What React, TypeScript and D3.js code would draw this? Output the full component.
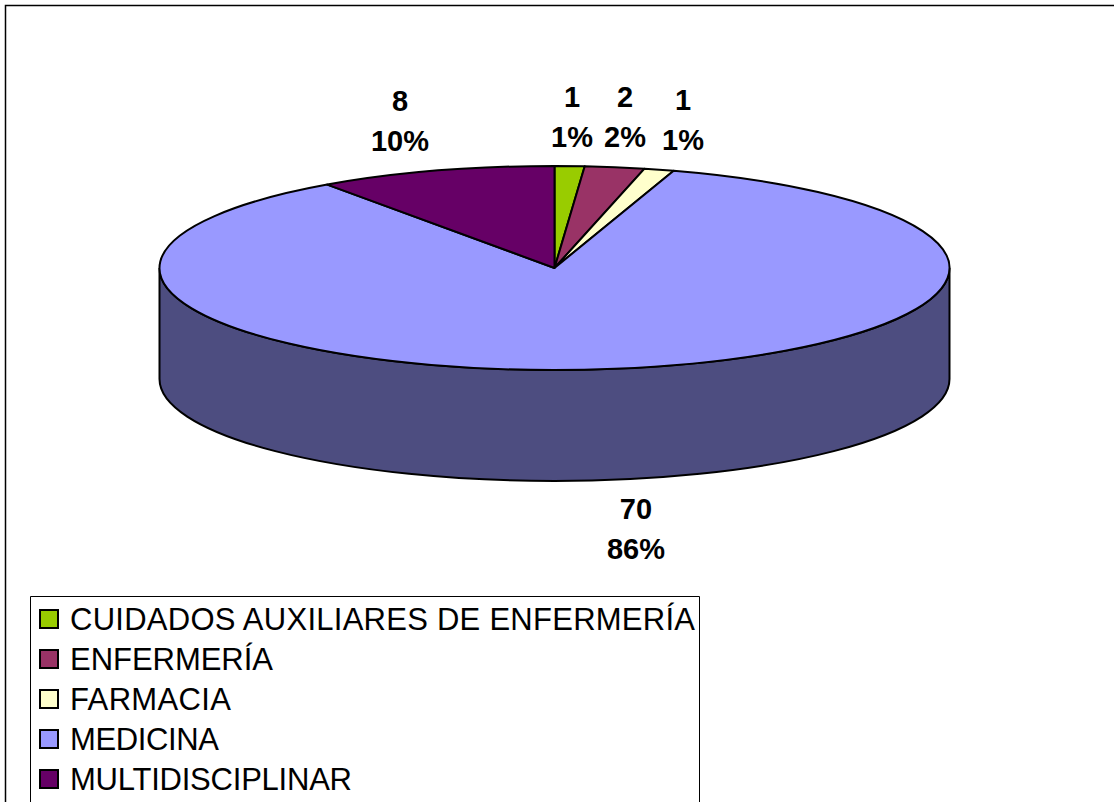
import * as d3 from "d3";

const categories = [
  "CUIDADOS AUXILIARES DE ENFERMERÍA",
  "ENFERMERÍA",
  "FARMACIA",
  "MEDICINA",
  "MULTIDISCIPLINAR",
];
const values = [1, 2, 1, 70, 8];
const percents = ["1%", "2%", "1%", "86%", "10%"];
const colors = ["#99cc00", "#993366", "#ffffcc", "#9999ff", "#660066"];

const WIDTH = 1114;
const HEIGHT = 802;
const CX = 554.5;
const CY = 268;
const RX = 395;
const RY = 102;
const DEPTH = 111;
const FONT = "'Liberation Sans', Arial, sans-serif";

// where excel put the data labels, x and y of the first line
const labelPos = [
  [572, 107],
  [625, 107],
  [683, 110],
  [636, 519],
  [400, 111],
];
// measured widths of the legend rows, the original font is hinted unevenly
const legendWidths = [625, 203, 161, 149, 282];

const pie = d3.pie<number>().sort(null);
const arc = d3.arc<d3.PieArcDatum<number>>().innerRadius(0).outerRadius(RX);

// side of the cylinder, only the front half shows
const sidePath = () => {
  const p = d3.path();
  p.moveTo(-RX, 0);
  p.lineTo(-RX, DEPTH * (RX / RY));
  p.arc(0, DEPTH * (RX / RY), RX, Math.PI, 0, true);
  p.lineTo(RX, 0);
  p.arc(0, 0, RX, 0, Math.PI, false);
  p.closePath();
  return p.toString();
};

export default function App() {
  const slices = pie(values);
  const squash = `translate(${CX},${CY}) scale(1,${RY / RX})`;

  return (
    <svg
      width={WIDTH}
      height={HEIGHT}
      style={{ position: "absolute", left: 0, top: 0, display: "block" }}
      fontFamily={FONT}
    >
      <rect width={WIDTH} height={HEIGHT} fill="#fff" />
      <path d={`M5.5,${HEIGHT}V5.5H${WIDTH}`} fill="none" stroke="#000" strokeWidth={1.5} />

      <path
        d={sidePath()}
        transform={squash}
        fill="#4d4d80"
        stroke="#000"
        strokeWidth={2}
        vectorEffect="non-scaling-stroke"
      />
      {slices.map((s, i) => (
        <path
          key={categories[i]}
          d={arc(s) ?? ""}
          transform={squash}
          fill={colors[i]}
          stroke="#000"
          strokeWidth={2}
          strokeLinejoin="round"
          vectorEffect="non-scaling-stroke"
        />
      ))}

      <g fontSize={29} fontWeight="bold" textAnchor="middle" fill="#000">
        {values.map((v, i) => (
          <g key={categories[i]}>
            <text x={labelPos[i][0]} y={labelPos[i][1]}>{v}</text>
            <text x={labelPos[i][0]} y={labelPos[i][1] + 40}>{percents[i]}</text>
          </g>
        ))}
      </g>

      <path d={`M30.5,${HEIGHT}V596.5H699.5V${HEIGHT}`} fill="#fff" stroke="#000" strokeWidth={1} />
      {categories.map((c, i) => (
        <g key={c} transform={`translate(0,${619 + i * 40})`}>
          <rect x={40} y={-9} width={18} height={18} fill={colors[i]} stroke="#000" strokeWidth={2} />
          <text x={70} y={11} fontSize={31} fill="#000" textLength={legendWidths[i]} lengthAdjust="spacing">
            {c}
          </text>
        </g>
      ))}
    </svg>
  );
}
